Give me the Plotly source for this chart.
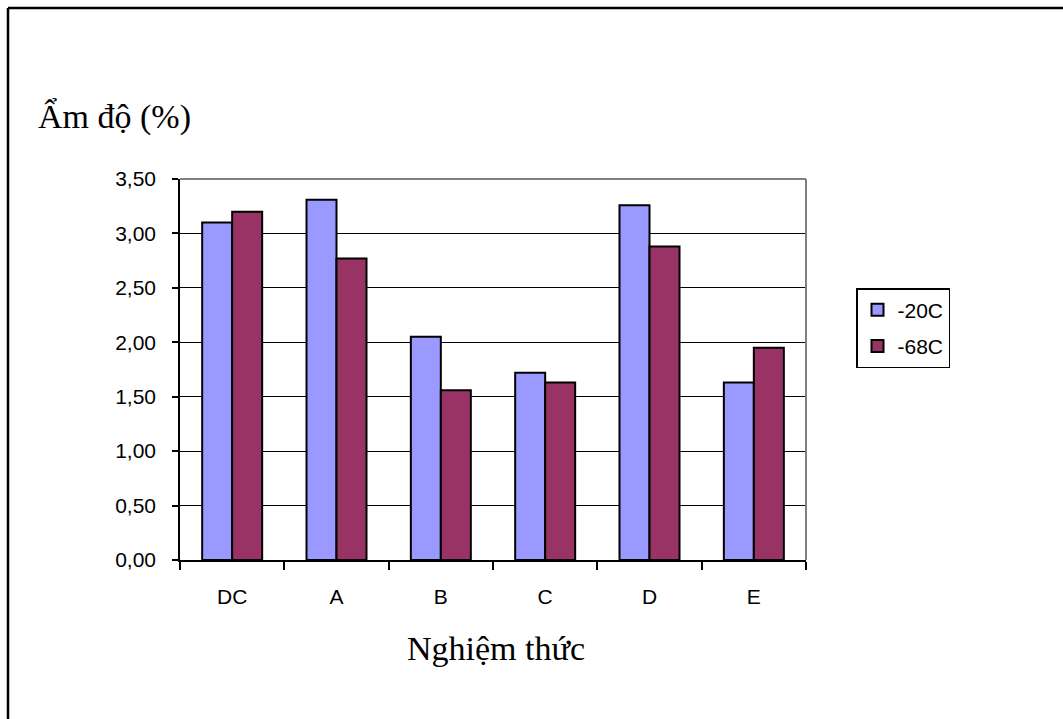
import plotly.graph_objects as go

# Data
categories = ["DC", "A", "B", "C", "D", "E"]
series_names = ["-20C", "-68C"]
values_m20 = [3.10, 3.31, 2.05, 1.72, 3.26, 1.63]
values_m68 = [3.20, 2.77, 1.56, 1.63, 2.88, 1.95]
y_ticks = [0, 0.5, 1.0, 1.5, 2.0, 2.5, 3.0, 3.5]

colors = ["#9999FF", "#993366"]

W, H = 1063, 719
L, R, T, B = 180, 806, 179, 560  # plot area in pixels


def px_x(px):
    return (px - L) / (R - L)


def px_y(py):
    return (B - py) / (B - T)


fig = go.Figure()
for name, vals, col in zip(series_names, [values_m20, values_m68], colors):
    fig.add_trace(go.Bar(
        x=categories, y=vals, name=name, legendgroup=name,
        marker=dict(color=col, line=dict(color="black", width=2)),
    ))

fig.update_layout(
    width=W, height=H,
    margin=dict(l=L, r=W - R, t=T, b=H - B, pad=0),
    paper_bgcolor="white", plot_bgcolor="white",
    barmode="group", bargap=0.425, bargroupgap=0,
    separators=",.",
    font=dict(family="Liberation Sans, Arial, sans-serif", size=21, color="black"),
    showlegend=True,
    legend=dict(
        x=px_x(856), y=px_y(288), xanchor="left", yanchor="top",
        bordercolor="black", borderwidth=1.5, bgcolor="white",
        font=dict(size=21), itemwidth=30,
        traceorder="grouped", tracegroupgap=6,
    ),
    xaxis=dict(
        showline=True, linecolor="black", linewidth=1.5,
        ticks="outside", ticklen=8, tickwidth=1.5, tickcolor="black",
        tickson="boundaries", showgrid=False,
        ticklabelstandoff=17,
    ),
    yaxis=dict(
        range=[0, 3.5], tickvals=y_ticks, tickformat=".2f",
        showline=True, linecolor="black", linewidth=1.5,
        ticks="outside", ticklen=6, tickwidth=1.5, tickcolor="black",
        showgrid=True, gridcolor="black", gridwidth=1.2,
        zeroline=False, ticklabelstandoff=12,
    ),
    shapes=[
        # gray top and right plot border
        dict(type="line", xref="paper", yref="paper", x0=0, x1=1, y0=1, y1=1,
             line=dict(color="#808080", width=2), layer="above"),
        dict(type="line", xref="paper", yref="paper", x0=1, x1=1, y0=0, y1=1,
             line=dict(color="#808080", width=2), layer="above"),
        # outer frame (top and left edges)
        dict(type="line", xref="paper", yref="paper",
             x0=px_x(8), x1=px_x(1070), y0=px_y(8), y1=px_y(8),
             line=dict(color="black", width=2.5)),
        dict(type="line", xref="paper", yref="paper",
             x0=px_x(8), x1=px_x(8), y0=px_y(8), y1=px_y(730),
             line=dict(color="black", width=2.5)),
    ],
    annotations=[
        dict(text="Ẩm độ (%)", xref="paper", yref="paper",
             x=px_x(36), y=px_y(117), xanchor="left", yanchor="middle",
             showarrow=False,
             font=dict(family="Liberation Serif, Times New Roman, serif", size=34)),
        dict(text="Nghiệm thức", xref="paper", yref="paper",
             x=px_x(496), y=px_y(648), xanchor="center", yanchor="middle",
             showarrow=False,
             font=dict(family="Liberation Serif, Times New Roman, serif", size=34)),
    ],
)

fig.write_html("out.html")
